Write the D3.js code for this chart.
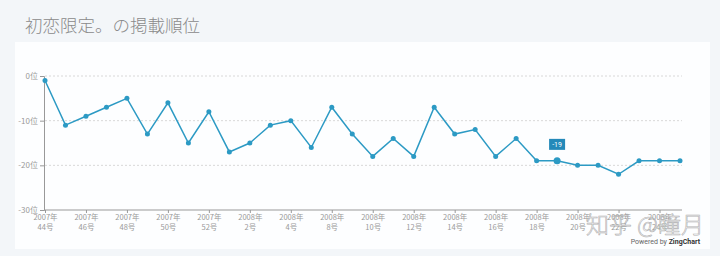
<!DOCTYPE html>
<html>
<head>
<meta charset="utf-8">
<script src="https://cdnjs.cloudflare.com/ajax/libs/d3/7.8.5/d3.min.js"></script>
<style>
  body { margin: 0; background: #f3f6f9; }
  svg { display: block; }
</style>
</head>
<body>
<div id="chart"></div>
<script>
// issue labels (year / week) and rank per issue
var years = ["2007年","2007年","2007年","2007年","2007年","2007年","2007年","2007年","2007年",
  "2008年","2008年","2008年","2008年","2008年","2008年","2008年","2008年","2008年","2008年","2008年",
  "2008年","2008年","2008年","2008年","2008年","2008年","2008年","2008年","2008年","2008年","2008年","2008年"];
var weeks = ["44号","45号","46号","47号","48号","49号","50号","51号","52号",
  "1号","2号","3号","4号","6号","8号","9号","10号","11号","12号","13号",
  "14号","15号","16号","17号","18号","19号","20号","21号","22号","23号","24号","25号"];
var ranks = [-1,-11,-9,-7,-5,-13,-6,-15,-8,-17,-15,-11,-10,-16,-7,-13,-18,-14,-18,-7,
  -13,-12,-18,-14,-19,-19,-20,-20,-22,-19,-19,-19];
var yTicks = [0,-10,-20,-30];
var highlighted = 25;

var W = 720, H = 256;
var svg = d3.select("#chart").append("svg").attr("width", W).attr("height", H);

svg.append("rect").attr("width", W).attr("height", H).attr("fill", "#f3f6f9");
svg.append("rect").attr("x", 15).attr("y", 42).attr("width", 695).attr("height", 207).attr("fill", "#fdfeff");

svg.append("text").attr("x", 25).attr("y", 32)
  .attr("font-family", "'Noto Sans CJK JP', sans-serif").attr("font-weight", 300)
  .attr("font-size", "17.5px").attr("fill", "#8a8a8a")
  .text("初恋限定。の掲載順位");

var idx = d3.range(ranks.length);
var x = d3.scalePoint().domain(idx).range([45, 680]);
var y = d3.scaleLinear().domain([-30, 0]).range([210, 76]);

// grid
svg.append("g").selectAll("line").data(yTicks.filter(function(d){ return d !== -30; }))
  .enter().append("line")
  .attr("x1", 45).attr("x2", 682)
  .attr("y1", function(d){ return y(d); }).attr("y2", function(d){ return y(d); })
  .attr("stroke", "#d8d8d8").attr("stroke-dasharray", "2,2");

// y axis
var yAxis = d3.axisLeft(y).tickValues(yTicks).tickSize(4).tickPadding(2)
  .tickFormat(function(d){ return d + "位"; });
var gy = svg.append("g").attr("transform", "translate(44,0)").call(yAxis);
gy.select(".domain").attr("stroke", "#999");
gy.selectAll(".tick line").attr("stroke", "#999");
gy.selectAll("text").attr("fill", "#999").attr("font-size", "8px")
  .attr("font-family", "'Noto Sans CJK SC', sans-serif");

// x axis
var xAxis = d3.axisBottom(x).tickValues(idx.filter(function(i){ return i % 2 === 0; }))
  .tickSize(3).tickSizeOuter(0).tickFormat("");
var gx = svg.append("g").attr("transform", "translate(0,210)").call(xAxis);
gx.select(".domain").attr("stroke", "#999").attr("d", "M44,0H682");
gx.selectAll(".tick line").attr("stroke", "#999");
gx.selectAll(".tick").each(function(i){
  var t = d3.select(this).append("text").attr("fill", "#999").attr("font-size", "7.5px")
    .attr("font-family", "'Noto Sans CJK SC', sans-serif").attr("text-anchor", "middle");
  t.append("tspan").attr("x", 0).attr("y", 10).text(years[i]);
  t.append("tspan").attr("x", 0).attr("y", 20).text(weeks[i]);
});

// series
var color = "#2c9ac4";
svg.append("path").datum(idx)
  .attr("fill", "none").attr("stroke", color).attr("stroke-width", 1.5)
  .attr("d", d3.line().x(function(i){ return x(i); }).y(function(i){ return y(ranks[i]); }));
svg.append("g").selectAll("circle").data(idx).enter().append("circle")
  .attr("cx", function(i){ return x(i); }).attr("cy", function(i){ return y(ranks[i]); })
  .attr("r", function(i){ return i === highlighted ? 3.5 : 2.5; })
  .attr("fill", color);

// tooltip
var tx = x(highlighted), ty = y(ranks[highlighted]);
svg.append("rect").attr("x", tx - 8).attr("y", ty - 22).attr("width", 16).attr("height", 11)
  .attr("fill", "#2489b9");
svg.append("text").attr("x", tx).attr("y", ty - 14).attr("text-anchor", "middle")
  .attr("font-size", "7px").attr("fill", "#fff").attr("font-family", "Roboto, sans-serif")
  .text(ranks[highlighted]);

// credit
svg.append("text").attr("x", 700).attr("y", 244).attr("text-anchor", "end")
  .attr("font-size", "7px").attr("font-family", "Roboto, sans-serif").attr("fill", "#666")
  .html("Powered by <tspan font-weight='bold' fill='#333'>ZingChart</tspan>");

// watermark
svg.append("text").attr("x", 586).attr("y", 233)
  .attr("font-size", "23px").attr("font-family", "'Noto Sans CJK SC', sans-serif")
  .attr("font-weight", 300)
  .attr("fill", "#ffffff").attr("fill-opacity", 0.75)
  .attr("stroke", "#999").attr("stroke-width", 0.6).attr("stroke-opacity", 0.8)
  .text("知乎 @瞳月");
</script>
</body>
</html>
